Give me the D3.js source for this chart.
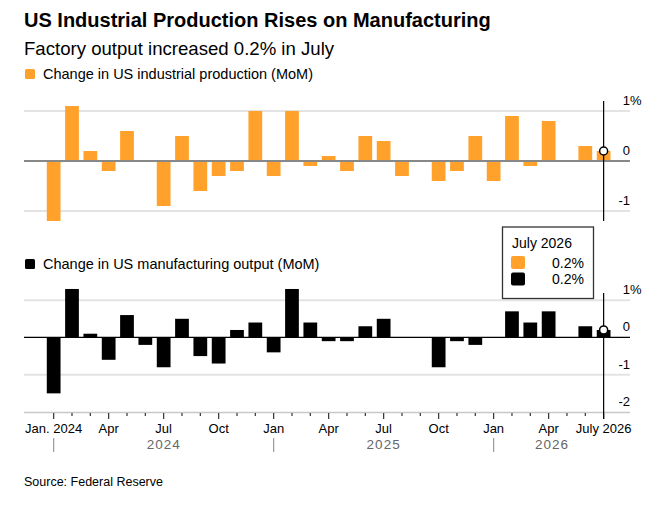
<!DOCTYPE html>
<html>
<head>
<meta charset="utf-8">
<script src="https://cdn.jsdelivr.net/npm/d3@7"></script>
<style>
  body { margin: 0; background: #fff; }
  svg { font-family: "Liberation Sans", Arial, sans-serif; }
</style>
</head>
<body>
<svg id="chart" width="665" height="515"></svg>
<script>
// months shown, Jan 2024 .. Jul 2026
var months = ["2024-01","2024-02","2024-03","2024-04","2024-05","2024-06","2024-07","2024-08","2024-09","2024-10","2024-11","2024-12",
              "2025-01","2025-02","2025-03","2025-04","2025-05","2025-06","2025-07","2025-08","2025-09","2025-10","2025-11","2025-12",
              "2026-01","2026-02","2026-03","2026-04","2026-05","2026-06","2026-07"];

// MoM change, %
var industrial = [-1.2, 1.1, 0.2, -0.2, 0.6, 0, -0.9, 0.5, -0.6, -0.3, -0.2, 1.0,
                  -0.3, 1.0, -0.1, 0.1, -0.2, 0.5, 0.4, -0.3, 0, -0.4, -0.2, 0.5,
                  -0.4, 0.9, -0.1, 0.8, 0, 0.3, 0.2];
var manufacturing = [-1.5, 1.3, 0.1, -0.6, 0.6, -0.2, -0.8, 0.5, -0.5, -0.7, 0.2, 0.4,
                     -0.4, 1.3, 0.4, -0.1, -0.1, 0.3, 0.5, 0, 0, -0.8, -0.1, -0.2,
                     0, 0.7, 0.4, 0.7, 0, 0.3, 0.2];

// x axis labels
var tickMonths = ["2024-01","2024-04","2024-07","2024-10","2025-01","2025-04","2025-07","2025-10","2026-01","2026-04","2026-07"];
var tickLabels = ["Jan. 2024","Apr","Jul","Oct","Jan","Apr","Jul","Oct","Jan","Apr","July 2026"];
var years = ["2024","2025","2026"];
var yearStarts = ["2024-01","2025-01","2026-01"];

var topTicks = [1, 0, -1];
var bottomTicks = [1, 0, -1, -2];

var orange = "#ffa12b";
var left = 24, right = 630;

var svg = d3.select("#chart");

// title, subtitle
svg.append("text").attr("x", 24).attr("y", 27)
    .attr("font-size", 20).attr("font-weight", "bold").attr("fill", "#000")
    .text("US Industrial Production Rises on Manufacturing");
svg.append("text").attr("x", 24).attr("y", 54.5)
    .attr("font-size", 18.6).attr("fill", "#000")
    .text("Factory output increased 0.2% in July");

// x scale shared by both panels
var x = d3.scaleBand().domain(months).range([44.5, 612.8]).paddingInner(0.25).paddingOuter(0.125);
var cx = function(m) { return x(m) + x.bandwidth() / 2; };

function panel(values, y, ticks, color, legendText, legendY, zeroStyle) {
    // legend
    svg.append("rect").attr("x", 25).attr("y", legendY - 9).attr("width", 10).attr("height", 10)
        .attr("rx", 1.5).attr("fill", color);
    svg.append("text").attr("x", 43).attr("y", legendY + 1)
        .attr("font-size", 14.5).attr("fill", "#000").text(legendText);

    // gridlines
    svg.append("g").selectAll("line").data(ticks.filter(function(t){ return t !== 0 && t !== y.domain()[0]; }))
        .enter().append("line")
        .attr("x1", left).attr("x2", right)
        .attr("y1", function(d){ return y(d); }).attr("y2", function(d){ return y(d); })
        .attr("stroke", "#e3e3e3").attr("stroke-width", 2);

    // bars
    svg.append("g").selectAll("rect").data(values).enter().append("rect")
        .attr("x", function(d, i){ return x(months[i]); })
        .attr("width", x.bandwidth())
        .attr("y", function(d){ return y(Math.max(0, d)); })
        .attr("height", function(d){ return Math.abs(y(d) - y(0)); })
        .attr("fill", color);

    // zero line
    svg.append("line").attr("x1", left).attr("x2", right)
        .attr("y1", y(0)).attr("y2", y(0))
        .attr("stroke", zeroStyle.color).attr("stroke-width", zeroStyle.width);

    // y labels on the right, sitting above the lines
    var lab = svg.append("g").attr("font-size", 13).attr("fill", "#000");
    ticks.forEach(function(t) {
        lab.append("text").attr("x", 630).attr("y", y(t) - 6)
            .attr("text-anchor", "end").text(t);
        if (t === ticks[0]) {
            lab.append("text").attr("x", 630).attr("y", y(t) - 6).text("%");
        }
    });
}

// top panel: industrial production
var yTop = d3.scaleLinear().domain([-1.2, 1.2]).range([221, 101]);
panel(industrial, yTop, topTicks, orange, "Change in US industrial production (MoM)", 78,
      {color: "#888", width: 2});

// bottom panel: manufacturing
var yBot = d3.scaleLinear().domain([-2, 1.2]).range([412, 292.7]);
panel(manufacturing, yBot, bottomTicks, "#000", "Change in US manufacturing output (MoM)", 268,
      {color: "#000", width: 1.2});

// x axis
svg.append("line").attr("x1", left).attr("x2", right).attr("y1", 412.5).attr("y2", 412.5)
    .attr("stroke", "#c8c8c8").attr("stroke-width", 1.5);
svg.append("g").selectAll("line").data(months).enter().append("line")
    .attr("x1", cx).attr("x2", cx)
    .attr("y1", 413)
    .attr("y2", function(m){ return tickMonths.indexOf(m) >= 0 ? 419 : 416; })
    .attr("stroke", "#333").attr("stroke-width", 1.2);
svg.append("g").selectAll("text").data(tickMonths).enter().append("text")
    .attr("x", cx).attr("y", 432.5)
    .attr("text-anchor", "middle").attr("font-size", 13).attr("fill", "#000")
    .text(function(d, i){ return tickLabels[i]; });

// year row
svg.append("g").selectAll("line").data(yearStarts).enter().append("line")
    .attr("x1", cx).attr("x2", cx).attr("y1", 438).attr("y2", 452)
    .attr("stroke", "#999").attr("stroke-width", 1.2);
var yearEnds = yearStarts.slice(1).map(cx).concat([x(months[months.length - 1]) + x.bandwidth()]);
svg.append("g").selectAll("text").data(years).enter().append("text")
    .attr("x", function(d, i){ return (cx(yearStarts[i]) + yearEnds[i]) / 2; })
    .attr("y", 448.5).attr("text-anchor", "middle")
    .attr("font-size", 13.5).attr("letter-spacing", 1).attr("fill", "#666")
    .text(function(d){ return d; });

// latest-month marker
var last = months[months.length - 1];
svg.append("line").attr("x1", cx(last)).attr("x2", cx(last)).attr("y1", 101).attr("y2", 221)
    .attr("stroke", "#000").attr("stroke-width", 1.2);
svg.append("line").attr("x1", cx(last)).attr("x2", cx(last)).attr("y1", 293).attr("y2", 419)
    .attr("stroke", "#000").attr("stroke-width", 1.2);
svg.append("circle").attr("cx", cx(last)).attr("cy", yTop(industrial[industrial.length - 1]))
    .attr("r", 4).attr("fill", "#fff").attr("stroke", "#000").attr("stroke-width", 1.5);
svg.append("circle").attr("cx", cx(last)).attr("cy", yBot(manufacturing[manufacturing.length - 1]))
    .attr("r", 4).attr("fill", "#fff").attr("stroke", "#000").attr("stroke-width", 1.5);

// legend box
var box = svg.append("g");
box.append("rect").attr("x", 502.5).attr("y", 227).attr("width", 91).attr("height", 71.5)
    .attr("fill", "#fff").attr("stroke", "#333").attr("stroke-width", 1.3);
box.append("text").attr("x", 512).attr("y", 247.5).attr("font-size", 14).attr("fill", "#000").text("July 2026");
box.append("rect").attr("x", 511).attr("y", 256).attr("width", 14).attr("height", 13).attr("rx", 2).attr("fill", orange);
box.append("text").attr("x", 584).attr("y", 267.5).attr("text-anchor", "end").attr("font-size", 14)
    .text(industrial[industrial.length - 1].toFixed(1) + "%");
box.append("rect").attr("x", 511).attr("y", 272.5).attr("width", 14).attr("height", 13).attr("rx", 2).attr("fill", "#000");
box.append("text").attr("x", 584).attr("y", 283.5).attr("text-anchor", "end").attr("font-size", 14)
    .text(manufacturing[manufacturing.length - 1].toFixed(1) + "%");

// source
svg.append("text").attr("x", 24).attr("y", 486).attr("font-size", 12.5).attr("fill", "#000")
    .text("Source: Federal Reserve");
</script>
</body>
</html>
